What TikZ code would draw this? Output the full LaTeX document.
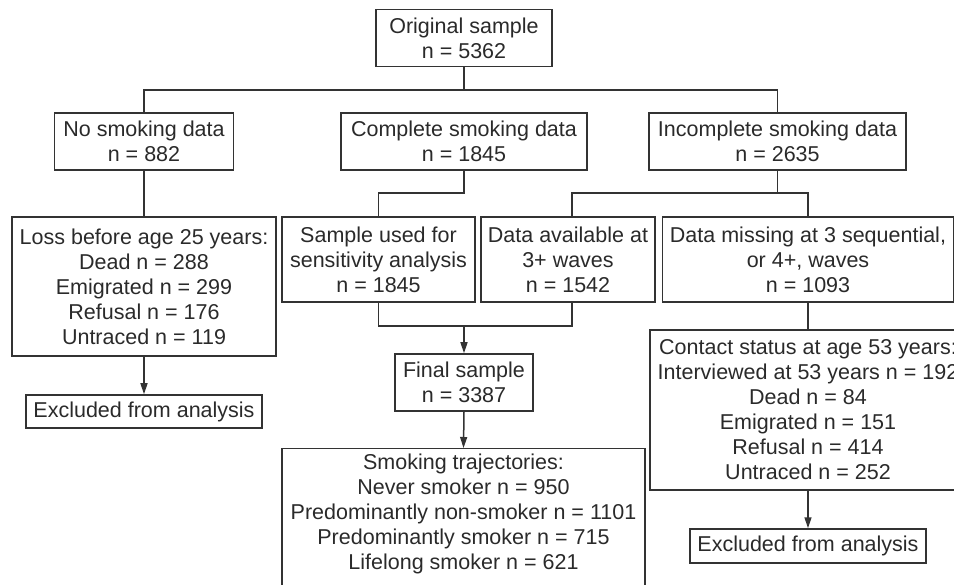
\documentclass[tikz,border=0pt]{standalone}
\usepackage{fontspec}
\setmainfont{Liberation Sans}
\usetikzlibrary{arrows.meta}
\definecolor{ink}{HTML}{333333}
\definecolor{txt}{HTML}{2A2A2A}
\begin{document}
\begin{tikzpicture}[x=1pt,y=-1pt,
  box/.style={draw=ink, line width=1.5pt, inner sep=0pt, align=center, text=txt,
    font=\fontsize{21.5pt}{25pt}\selectfont},
  conn/.style={draw=ink, line width=1.5pt},
  arr/.style={conn, -{Triangle[length=11pt,width=7pt]}}]
\useasboundingbox (0,0) rectangle (954,585);
% nodes
\node[box, minimum width=176pt, minimum height=57pt] (orig) at (464,38) {Original sample\\n = 5362};
\node[box, minimum width=179pt, minimum height=57pt] (nosm) at (144,141.5) {No smoking data\\n = 882};
\node[box, minimum width=246pt, minimum height=57pt] (comp) at (464,141.5) {Complete smoking data\\n = 1845};
\node[box, minimum width=257pt, minimum height=57pt] (incomp) at (777.5,141.5) {Incomplete smoking data\\n = 2635};
\node[box, minimum width=264pt, minimum height=139pt] (loss) at (144,286.5) {Loss before age 25 years:\\Dead n = 288\\Emigrated n = 299\\Refusal n = 176\\Untraced n = 119};
\node[box, minimum width=236pt, minimum height=33pt] (excl1) at (144,411.5) {Excluded from analysis};
\node[box, minimum width=193pt, minimum height=85pt] (sample) at (378.5,259.5) {Sample used for\\sensitivity analysis\\n = 1845};
\node[box, minimum width=174pt, minimum height=85pt] (avail) at (568,259.5) {Data available at\\3+ waves\\n = 1542};
\node[box, minimum width=291pt, minimum height=85pt] (missing) at (808,259.5) {Data missing at 3 sequential,\\or 4+, waves\\n = 1093};
\node[box, minimum width=138pt, minimum height=57pt] (final) at (464,382.5) {Final sample\\n = 3387};
\node[box, minimum width=363pt, minimum height=152pt, anchor=north] (traj) at (463.5,448) {Smoking trajectories:\\Never smoker n = 950\\Predominantly non-smoker n = 1101\\Predominantly smoker n = 715\\Lifelong smoker n = 621\\[2pt]};
\node[box, minimum width=316pt, minimum height=160pt] (contact) at (808,410) {Contact status at age 53 years:\\Interviewed at 53 years n = 192\\Dead n = 84\\Emigrated n = 151\\Refusal n = 414\\Untraced n = 252};
\node[box, minimum width=236pt, minimum height=34pt] (excl2) at (808,546) {Excluded from analysis};
% junctions
\coordinate (j1) at (464,90);
\coordinate (j2) at (464,193);
\coordinate (j3) at (777.5,193);
\coordinate (j4) at (464,326);
\coordinate (a1) at (572,217);
\coordinate (a2) at (572,302);
% connectors
\draw[conn] (orig.south) -- (j1);
\draw[conn] (nosm.north) |- (j1) -| (incomp.north);
\draw[conn] (nosm.south) -- (loss.north);
\draw[arr] (loss.south) -- (excl1.north);
\draw[conn] (comp.south) -- (j2) -| (sample.north);
\draw[conn] (incomp.south) -- (j3);
\draw[conn] (a1) |- (j3) -| (missing.north);
\draw[conn] (sample.south) |- (a2 |- j4) -- (a2);
\draw[arr] (j4) -- (final.north);
\draw[arr] (final.south) -- (traj.north);
\draw[conn] (missing.south) -- (contact.north);
\draw[arr] (contact.south) -- (excl2.north);
\end{tikzpicture}
\end{document}
